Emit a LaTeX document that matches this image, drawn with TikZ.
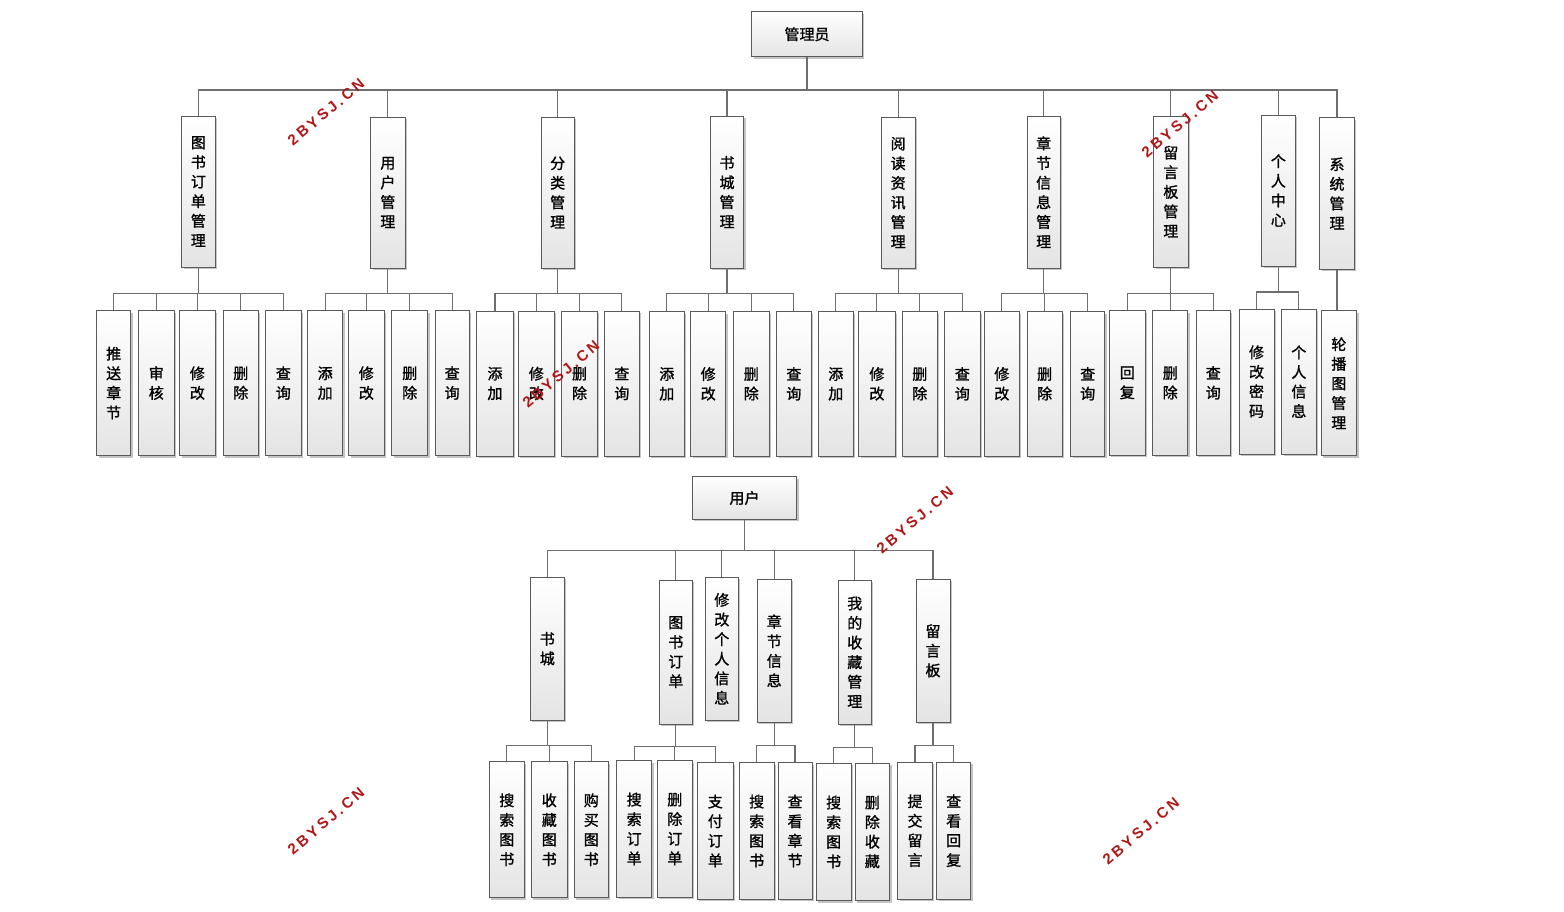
\documentclass[tikz,border=0pt]{standalone}
\usepackage{fontspec}
\usetikzlibrary{shadows}
\setmainfont{Noto Sans CJK SC}[FakeBold=1.2]
\newfontfamily\wmfont[LetterSpace=20]{Liberation Sans}
\definecolor{boxline}{HTML}{5A5A5A}
\definecolor{linecol}{HTML}{6E6E6E}
\definecolor{boxbot}{HTML}{E4E4E4}
\definecolor{shadowcol}{HTML}{C4C4C4}
\definecolor{wmred}{HTML}{B01818}
\tikzset{
  bx/.style={draw=boxline, line width=0.9pt, top color=white, bottom color=boxbot,
    inner sep=0pt, align=center, font=\fontsize{15}{19.6}\selectfont,
    drop shadow={shadow xshift=2pt, shadow yshift=-2pt, fill=shadowcol, opacity=1}},
  conn/.style={draw=linecol, line width=1.2pt},
  wm/.style={text=wmred, font=\wmfont\bfseries\fontsize{15}{15}\selectfont, rotate=40, inner sep=0pt}
}
% \bx{name}{x1}{y1}{x2}{y2}{text}
\newcommand\bx[6]{\node[bx, minimum width={#4pt-#2pt}, minimum height={#5pt-#3pt}] (#1) at ({(#2+#4)/2},{(#3+#5)/2}) {#6};}
\begin{document}
\begin{tikzpicture}[x=1pt,y=-1pt]
\useasboundingbox[fill=white] (0,0) rectangle (1564,911);
% ---------- administrator tree ----------
\bx{A0}{751.7}{11.7}{862.3}{56.7}{管理员}
\bx{A1}{181.7}{116}{215}{267}{图\\书\\订\\单\\管\\理}
\bx{A2}{370.7}{117}{405}{268}{用\\户\\管\\理}
\bx{A3}{541}{117}{574.3}{268}{分\\类\\管\\理}
\bx{A4}{710.3}{116}{743.7}{268}{书\\城\\管\\理}
\bx{A5}{881.3}{117}{915}{268}{阅\\读\\资\\讯\\管\\理}
\bx{A6}{1027}{116}{1060.3}{268.3}{章\\节\\信\\息\\管\\理}
\bx{A7}{1153.7}{116}{1188}{267.3}{留\\言\\板\\管\\理}
\bx{A8}{1261.7}{115}{1295}{266}{个\\人\\中\\心}
\bx{A9}{1319.7}{117.7}{1354.3}{269.3}{系\\统\\管\\理}
% group 1
\bx{B11}{96.7}{310.7}{130.7}{455.5}{推\\送\\章\\节}
\bx{B12}{138.3}{310.7}{174.3}{455.5}{审\\核}
\bx{B13}{179.7}{310.7}{215}{455.5}{修\\改}
\bx{B14}{223.3}{310.7}{258.3}{455.5}{删\\除}
\bx{B15}{265.7}{310.7}{301}{455.5}{查\\询}
% group 2
\bx{B21}{307.7}{310.7}{342.7}{455.5}{添\\加}
\bx{B22}{348.7}{310.7}{384}{455.5}{修\\改}
\bx{B23}{391.7}{310.7}{427.7}{455.5}{删\\除}
\bx{B24}{435}{310.7}{469.3}{455.5}{查\\询}
% group 3
\bx{B31}{476.7}{311}{513.3}{456}{添\\加}
\bx{B32}{518.3}{311}{554.3}{456}{修\\改}
\bx{B33}{561.7}{311}{597.3}{456}{删\\除}
\bx{B34}{604.3}{311}{639.3}{456}{查\\询}
% group 4
\bx{B41}{649.3}{311.7}{684.3}{456}{添\\加}
\bx{B42}{690.7}{311.7}{725.7}{456}{修\\改}
\bx{B43}{733.3}{311.7}{769.3}{456}{删\\除}
\bx{B44}{776.7}{311.7}{811}{456}{查\\询}
% group 5
\bx{B51}{818.3}{311.7}{853.3}{456}{添\\加}
\bx{B52}{858.7}{311.7}{895}{456}{修\\改}
\bx{B53}{902.3}{311.7}{937.3}{456}{删\\除}
\bx{B54}{944.7}{311.7}{980}{456}{查\\询}
% group 6
\bx{B61}{984.3}{311.7}{1019.3}{456}{修\\改}
\bx{B62}{1027}{311.7}{1062.3}{456}{删\\除}
\bx{B63}{1070.7}{311.7}{1104.7}{456}{查\\询}
% group 7
\bx{B71}{1109.3}{310.7}{1145.3}{455}{回\\复}
\bx{B72}{1152.7}{310.7}{1187.7}{455}{删\\除}
\bx{B73}{1196.3}{310.7}{1230.3}{455}{查\\询}
% group 8
\bx{B81}{1239}{309.3}{1274}{454}{修\\改\\密\\码}
\bx{B82}{1281.7}{309.3}{1316}{454}{个\\人\\信\\息}
% group 9
\bx{B91}{1321}{310.7}{1356.7}{455.7}{轮\\播\\图\\管\\理}
% connectors admin
\coordinate (topbus) at (0,90);
\draw[conn] (A0.south) -- (A0.south |- topbus);
\draw[conn] (A1.north) |- (A9.north |- topbus) -- (A9.north);
\foreach \n in {A2,A3,A4,A5,A6,A7,A8} \draw[conn] (\n.north) -- (\n.north |- topbus);
\coordinate (bus1) at (0,293.3);
\coordinate (bus8) at (0,292);
% group buses
\draw[conn] (A1.south) -- (A1.south |- bus1);
\draw[conn] (B11.north) |- (B15.north |- bus1) -- (B15.north);
\foreach \n in {B12,B13,B14} \draw[conn] (\n.north) -- (\n.north |- bus1);
\draw[conn] (A2.south) -- (A2.south |- bus1);
\draw[conn] (B21.north) |- (B24.north |- bus1) -- (B24.north);
\foreach \n in {B22,B23} \draw[conn] (\n.north) -- (\n.north |- bus1);
\draw[conn] (A3.south) -- (A3.south |- bus1);
\draw[conn] (B31.north) |- (B34.north |- bus1) -- (B34.north);
\foreach \n in {B32,B33} \draw[conn] (\n.north) -- (\n.north |- bus1);
\draw[conn] (A4.south) -- (A4.south |- bus1);
\draw[conn] (B41.north) |- (B44.north |- bus1) -- (B44.north);
\foreach \n in {B42,B43} \draw[conn] (\n.north) -- (\n.north |- bus1);
\draw[conn] (A5.south) -- (A5.south |- bus1);
\draw[conn] (B51.north) |- (B54.north |- bus1) -- (B54.north);
\foreach \n in {B52,B53} \draw[conn] (\n.north) -- (\n.north |- bus1);
\draw[conn] (A6.south) -- (A6.south |- bus1);
\draw[conn] (B61.north) |- (B63.north |- bus1) -- (B63.north);
\draw[conn] (B62.north) -- (B62.north |- bus1);
\draw[conn] (A7.south) -- (A7.south |- bus1);
\draw[conn] (B71.north) |- (B73.north |- bus1) -- (B73.north);
\draw[conn] (B72.north) -- (B72.north |- bus1);
\draw[conn] (A8.south) -- (A8.south |- bus8);
\draw[conn] (B81.north) |- (B82.north |- bus8) -- (B82.north);
\draw[conn] (A9.south) -- (A9.south |- B91.north);
% ---------- user tree ----------
\bx{U0}{692.3}{476.7}{796.7}{519.3}{用户}
\bx{U1}{530.3}{577.3}{564.3}{720}{书\\城}
\bx{U2}{659.3}{580}{692.3}{724.3}{图\\书\\订\\单}
\bx{U3}{705.3}{577.3}{738.3}{720.3}{修\\改\\个\\人\\信\\息}
\bx{U4}{757.3}{579.3}{791.3}{722.3}{章\\节\\信\\息}
\bx{U5}{838.3}{580}{871.3}{724.3}{我\\的\\收\\藏\\管\\理}
\bx{U6}{916}{579.3}{950}{722.3}{留\\言\\板}
\bx{V11}{489.3}{761.7}{524.3}{897.7}{搜\\索\\图\\书}
\bx{V12}{531.3}{761.7}{567.3}{897.7}{收\\藏\\图\\书}
\bx{V13}{574.3}{761.7}{608.3}{897.7}{购\\买\\图\\书}
\bx{V21}{616.7}{760.7}{651.7}{897.3}{搜\\索\\订\\单}
\bx{V22}{657.3}{760.7}{692.3}{897.3}{删\\除\\订\\单}
\bx{V23}{697.3}{762.7}{733.3}{899.3}{支\\付\\订\\单}
\bx{V41}{739.3}{762.7}{774}{899.3}{搜\\索\\图\\书}
\bx{V42}{778}{762.7}{812}{899.3}{查\\看\\章\\节}
\bx{V51}{816}{763.3}{851.3}{900.7}{搜\\索\\图\\书}
\bx{V52}{855}{763.3}{889.7}{900.7}{删\\除\\收\\藏}
\bx{V61}{897.7}{762.3}{932.3}{899}{提\\交\\留\\言}
\bx{V62}{936.7}{762.3}{970.7}{899}{查\\看\\回\\复}
\coordinate (ubus) at (0,550.3);
\draw[conn] (U0.south) -- (U0.south |- ubus);
\draw[conn] (U1.north) |- (U6.north |- ubus) -- (U6.north);
\foreach \n in {U2,U3,U4,U5} \draw[conn] (\n.north) -- (\n.north |- ubus);
\coordinate (vbus) at (0,745.7);
\coordinate (vbus2) at (0,746.7);
\coordinate (vbus5) at (0,747.3);
\draw[conn] (U1.south) -- (U1.south |- vbus);
\draw[conn] (V11.north) |- (V13.north |- vbus) -- (V13.north);
\draw[conn] (V12.north) -- (V12.north |- vbus);
\draw[conn] (U2.south) -- (U2.south |- vbus2);
\draw[conn] (V21.north) |- (V23.north |- vbus2) -- (V23.north);
\draw[conn] (V22.north) -- (V22.north |- vbus2);
\draw[conn] (U4.south) -- (U4.south |- vbus);
\draw[conn] (V41.north) |- (V42.north |- vbus) -- (V42.north);
\draw[conn] (U5.south) -- (U5.south |- vbus5);
\draw[conn] (V51.north) |- (V52.north |- vbus5) -- (V52.north);
\draw[conn] (U6.south) -- (U6.south |- vbus);
\draw[conn] (V61.north) |- (V62.north |- vbus) -- (V62.north);
% ---------- watermarks ----------
\node[wm] (wm1) at (326,112) {2BYSJ.CN};
\node[wm] (wm2) at (561,374) {2BYSJ.CN};
\node[wm] (wm3) at (1180,124) {2BYSJ.CN};
\node[wm] (wm4) at (915,520) {2BYSJ.CN};
\node[wm] (wm5) at (326,821) {2BYSJ.CN};
\node[wm] (wm6) at (1141,831) {2BYSJ.CN};
\end{tikzpicture}
\end{document}
